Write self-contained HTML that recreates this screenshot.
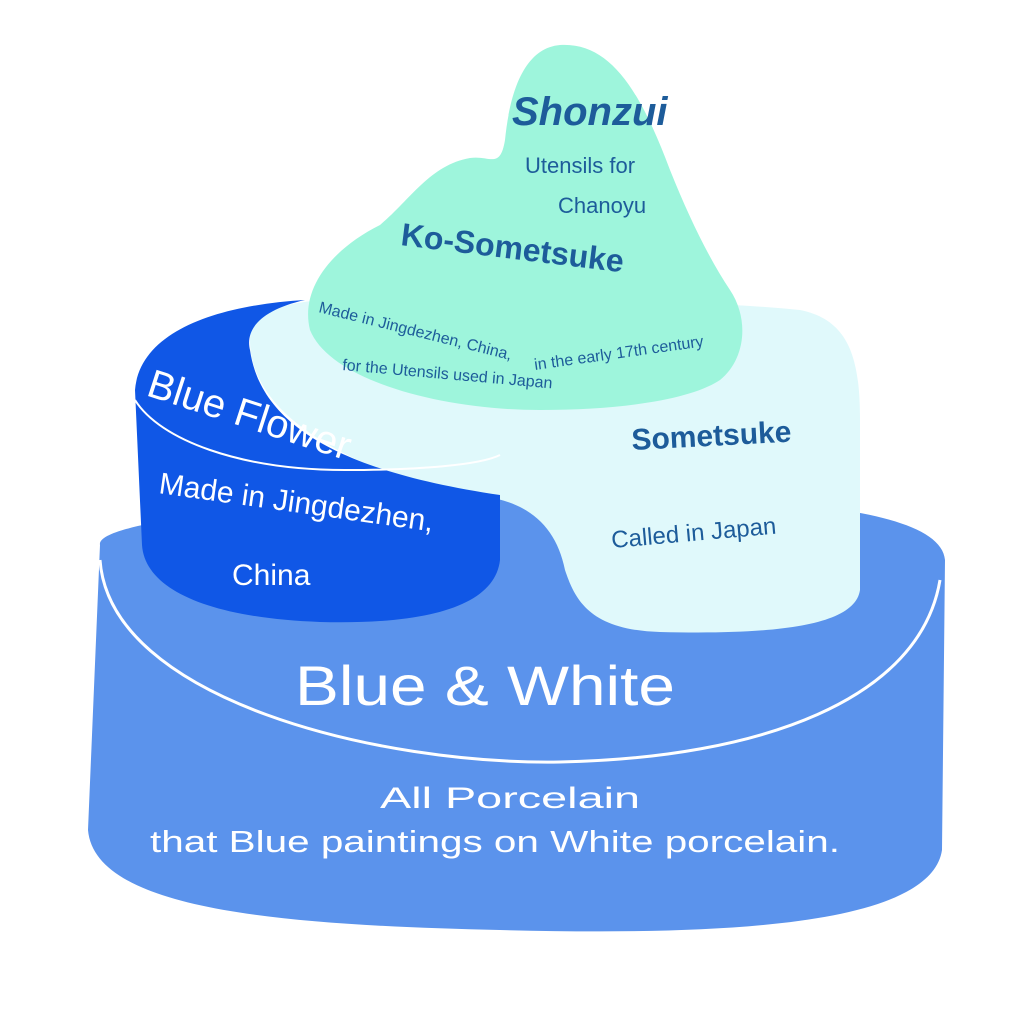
<!DOCTYPE html>
<html><head><meta charset="utf-8"><style>
html,body{margin:0;padding:0;background:#fff;}
svg{display:block;}
text{font-family:"Liberation Sans",sans-serif;}
</style></head><body>
<svg width="1024" height="1024" viewBox="0 0 1024 1024">
<path d="M100,545 C95,520 300,500 520,497 C720,495 940,500 945,560 L942,850 C930,930 700,935 500,930 C280,925 95,910 88,830 Z" fill="#5b93ec"/>
<path d="M100,560 C110,700 380,765 560,762 C760,758 920,700 940,580" fill="none" stroke="#fff" stroke-width="3"/>
<path d="M250,340 C250,300 320,295 420,300 C560,300 700,300 800,310 C850,320 860,360 860,420 L860,590 C855,625 780,635 660,632 C590,630 575,600 565,570 C555,520 520,495 460,495 C360,470 250,420 250,340 Z" fill="#e0f9fb"/>
<path d="M135,390 C140,330 220,305 305,300 L305,300 C260,310 245,330 250,350 C260,420 330,470 500,495 L500,560 C495,605 430,625 320,622 C210,618 145,590 142,545 Z" fill="#1057e6"/>
<path d="M135,400 C160,440 240,470 345,470 C420,470 480,465 500,455" fill="none" stroke="#fff" stroke-width="2"/>
<path d="M310,330 C300,290 330,250 380,225 C410,200 430,165 470,158 C490,155 500,170 505,140 C510,90 525,48 560,45 C610,42 640,90 670,170 C690,220 710,260 730,290 C750,320 745,360 720,380 C690,400 620,410 540,410 C440,410 330,380 310,330 Z" fill="#9ef5dc"/>
<text x="512" y="125" font-size="40" font-weight="bold" fill="#1d5c9a" font-style="italic">Shonzui</text>
<text x="525" y="173" font-size="22" fill="#1d5c9a">Utensils for</text>
<text x="558" y="213" font-size="22" fill="#1d5c9a">Chanoyu</text>
<text x="400" y="245" font-size="32" font-weight="bold" fill="#1d5c9a" transform="rotate(7 400 245)">Ko-Sometsuke</text>
<text x="318" y="312" font-size="16" fill="#1d5c9a" transform="rotate(14 318 312)">Made in Jingdezhen, China,</text>
<text x="535" y="370" font-size="16" fill="#1d5c9a" transform="rotate(-8 535 370)">in the early 17th century</text>
<text x="342" y="370" font-size="16" fill="#1d5c9a" transform="rotate(5 342 370)">for the Utensils used in Japan</text>
<text x="632" y="450" font-size="30" font-weight="bold" fill="#1d5c9a" transform="rotate(-3 632 450)">Sometsuke</text>
<text x="612" y="548" font-size="24" fill="#1d5c9a" transform="rotate(-5 612 548)">Called in Japan</text>
<text x="145" y="395" font-size="40" fill="#fff" transform="rotate(18 145 395)">Blue Flower</text>
<text x="158" y="493" font-size="30" fill="#fff" transform="rotate(8 158 493)">Made in Jingdezhen,</text>
<text x="232" y="585" font-size="30" fill="#fff">China</text>
<text x="295" y="705" font-size="56" fill="#fff" textLength="380" lengthAdjust="spacingAndGlyphs">Blue &amp; White</text>
<text x="380" y="808" font-size="30" fill="#fff" textLength="260" lengthAdjust="spacingAndGlyphs">All Porcelain</text>
<text x="150" y="852" font-size="31" fill="#fff" textLength="690" lengthAdjust="spacingAndGlyphs">that Blue paintings on White porcelain.</text>
</svg>
</body></html>
